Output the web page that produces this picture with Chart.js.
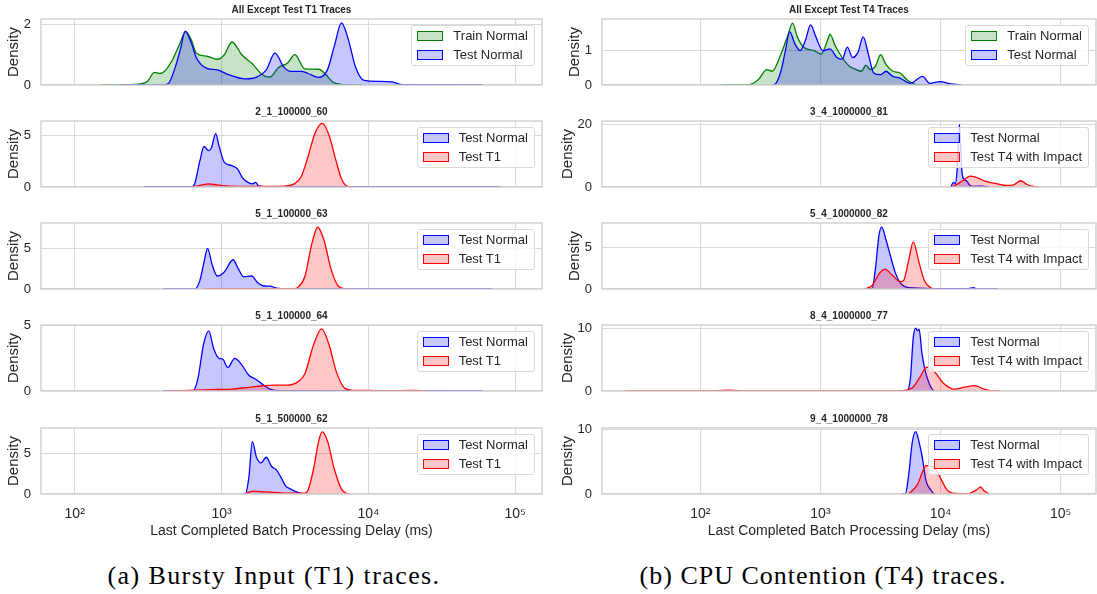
<!DOCTYPE html>
<html>
<head>
<meta charset="utf-8">
<script src="https://cdn.jsdelivr.net/npm/chart.js@4.4.1/dist/chart.umd.min.js"></script>
<style>
  body { margin: 0; background: #fff; width: 1097px; height: 594px; position: relative; overflow: hidden;
         font-family: "Liberation Sans", Arial, sans-serif; color: #262626; }
  canvas { position: absolute; }
  .legend { position: absolute; border: 1px solid #d9d9d9; border-radius: 3px; background: rgba(255,255,255,0.8);
            padding: 1px 6px 1px 5px; font-size: 13px; line-height: 18.5px; white-space: nowrap; }
  .legend .swatch { display: inline-block; box-sizing: border-box; width: 26px; height: 10px; border: 1.5px solid;
                    vertical-align: -1px; margin-right: 10px; }
  .caption { position: absolute; top: 561px; line-height: 30px; font-family: "Liberation Serif", serif; font-size: 26px;
             letter-spacing: 1.4px; transform: translateX(-50%); white-space: nowrap; color: #000; }
</style>
</head>
<body>
<div class="caption" style="left:274px">(a) Bursty Input (T1) traces.</div>
<div class="caption" style="left:823px; letter-spacing:1px">(b) CPU Contention (T4) traces.</div>
<script>
// x axis (log, ms)
const xTickValues = [100, 1000, 10000, 100000];
const xTickLabels = ['10²', '10³', '10⁴', '10⁵'];
const xLabel = 'Last Completed Batch Processing Delay (ms)';

// left column: bursty input (T1)
const leftTitles = ['All Except Test T1 Traces', '2_1_100000_60', '5_1_100000_63', '5_1_100000_64', '5_1_500000_62'];
const leftYMax = [2.18, 6.44, 8.12, 5.05, 8.08];
const leftYTicks = [[0, 2], [0, 5], [0, 5], [0, 5], [0, 5]];

// right column: CPU contention (T4)
const rightTitles = ['All Except Test T4 Traces', '3_4_1000000_81', '5_4_1000000_82', '8_4_1000000_77', '9_4_1000000_78'];
const rightYMax = [1.92, 21.1, 8.0, 10.5, 10.26];
const rightYTicks = [[0, 1], [0, 20], [0, 5], [0, 10], [0, 10]];

// density curves, [delay ms, density]
const trainNormalT1 = [[150,0],[258,0.02],[313,0.12],[349,0.42],[379,0.38],[411,0.46],[459,0.8],[513,1.3],[572,1.76],[621,1.5],[674,1.05],[795,0.95],[936,0.85],[1045,1.0],[1178,1.42],[1374,1.0],[1621,0.7],[1910,0.33],[2132,0.26],[2445,0.58],[2805,0.72],[3162,1.0],[3690,0.53],[4592,0.52],[5129,0.35],[5715,0.1],[6561,0.02],[7516,0],[9000,0]];
const testNormalT1 = [[200,0],[400,0],[435,0.05],[485,0.6],[526,1.2],[565,1.78],[621,1.4],[674,0.9],[795,0.55],[936,0.5],[1104,0.35],[1452,0.2],[1711,0.25],[2018,0.5],[2312,1.05],[2653,0.6],[2958,0.45],[3490,0.45],[3890,0.38],[4592,0.25],[5263,0.5],[5875,1.3],[6561,2.05],[7311,1.5],[8167,0.6],[9354,0.15],[11660,0.12],[14520,0.1],[17110,0.01],[60000,0]];
const normal60 = [[300,0],[621,0],[656,0.3],[711,2.5],[760,3.95],[817,3.55],[853,3.8],[912,5.2],[962,4.0],[1045,2.4],[1166,2.1],[1288,1.75],[1374,1.0],[1493,0.5],[1621,0.3],[1711,0.45],[1788,0.1],[2018,0.02],[80000,0]];
const t1Run60 = [[638,0],[711,0.15],[817,0.3],[936,0.2],[1166,0.08],[1910,0.05],[2512,0.05],[3126,0.3],[3490,1.0],[3890,3.0],[4345,5.3],[4850,6.2],[5412,5.0],[6040,2.5],[6561,0.8],[7119,0.1],[7943,0]];
const normal63 = [[400,0],[656,0],[711,1.0],[764,3.5],[803,5.0],[863,3.0],[936,1.6],[1045,2.1],[1199,3.6],[1300,2.5],[1413,1.5],[1603,1.6],[1758,0.8],[1910,0.4],[2132,0.35],[2377,0.1],[2653,0],[70000,0]];
const t1Run63 = [[752,0],[900,0.05],[2500,0.05],[3126,0.05],[3304,0.2],[3690,1.5],[4112,5.5],[4519,7.6],[4988,6.0],[5559,2.5],[6209,0.4],[6925,0]];
const normal64 = [[400,0],[638,0],[692,1.0],[752,3.5],[817,4.6],[887,3.2],[962,2.5],[1016,2.45],[1104,1.8],[1231,2.5],[1374,2.0],[1535,1.2],[1711,0.9],[1910,0.5],[2132,0.15],[2512,0.02],[60000,0]];
const t1Run64 = [[435,0],[839,0.1],[1166,0.15],[1452,0.25],[1910,0.4],[2251,0.45],[2805,0.45],[3304,0.7],[3690,1.3],[4227,3.5],[4797,4.75],[5412,3.5],[6040,1.5],[6925,0.2],[7943,0.05],[9886,0.04],[13000,0.02],[20180,0.05],[25120,0]];
const normal62 = [[1400,0],[1452,0],[1535,2.0],[1621,6.4],[1730,4.5],[1858,3.8],[2018,4.5],[2188,3.4],[2377,2.9],[2582,1.8],[2729,1.0],[2958,0.6],[3304,0.2],[3589,0]];
const t1Run62 = [[1452,0],[1621,0.35],[2018,0.25],[2805,0.1],[3690,0.1],[3890,0.5],[4227,3.0],[4592,6.5],[4850,7.6],[5263,6.5],[5875,3.0],[6561,0.6],[7119,0.05],[7500,0]];

const trainNormalT4 = [[150,0],[256,0.01],[303,0.15],[358,0.45],[396,0.4],[469,0.9],[536,1.45],[585,1.8],[642,1.4],[724,1.1],[887,1.0],[1014,0.9],[1159,1.35],[1199,1.48],[1325,1.15],[1517,0.8],[1734,0.55],[1983,0.45],[2193,0.4],[2393,0.58],[2594,0.45],[2871,0.55],[3171,0.88],[3508,0.6],[4011,0.4],[4592,0.35],[5248,0.15],[5808,0.05],[6637,0],[8000,0]];
const testNormalT4 = [[400,0],[409,0],[469,0.4],[511,1.0],[554,1.55],[613,1.2],[677,1.0],[750,1.3],[828,1.75],[916,1.4],[1047,1.0],[1199,1.05],[1371,0.8],[1517,0.75],[1675,1.1],[1854,0.8],[2051,0.95],[2270,1.4],[2506,0.9],[2773,0.35],[3171,0.3],[3508,0.4],[4011,0.25],[4592,0.2],[5610,0.05],[7096,0.25],[8128,0.05],[9931,0.1],[12160,0.03],[14860,0]];
const normal81 = [[12160,0],[12820,1.5],[13250,1.0],[13710,5],[14090,14],[14360,20],[14660,14],[15060,5],[15670,2.5],[16440,2.0],[17580,0.5],[18790,0.2],[22230,0.3],[25410,0]];
const t4Run81 = [[12160,0],[13900,1.0],[15890,2.5],[17580,3.5],[20090,3.0],[23770,1.8],[29110,1.1],[35560,0.5],[40640,0.7],[46560,2.0],[52480,0.8],[60810,0.1],[65010,0]];
const normal82 = [[2500,0],[2685,0],[2871,2.5],[3069,6.5],[3236,7.5],[3508,6.0],[3828,4.0],[4150,2.2],[4592,0.8],[5433,0.15],[8690,0.05],[17000,0.05],[18790,0.15],[20090,0],[30000,0]];
const t4Run82 = [[2344,0],[2685,0.4],[3069,1.8],[3436,2.4],[4011,1.6],[4592,0.9],[4909,1.0],[5433,3.5],[5929,5.7],[6546,3.5],[7345,1.0],[8395,0.1],[8690,0]];
const normal77 = [[5000,0],[5248,0],[5610,2.0],[5929,8.5],[6209,10.0],[6427,9.6],[6637,9.8],[7000,6.0],[7499,3.0],[8128,1.0],[8690,0.1],[9000,0]];
const t4Run77 = [[23.6,0.02],[135,0.02],[171,0.15],[216,0.02],[4436,0.02],[5808,0.5],[6637,2.0],[7691,3.8],[8690,3.3],[10620,1.2],[13000,0.3],[15890,0.6],[19190,0.85],[23010,0.3],[27170,0.02],[31120,0]];
const normal78 = [[4800,0],[5082,0],[5433,3.0],[5808,8.0],[6209,9.7],[6637,8.0],[7000,6.0],[7586,2.0],[8395,0.5],[8690,0.1],[9000,0]];
const t4Run78 = [[5433,0],[6427,1.5],[7096,3.5],[7586,4.4],[8395,4.3],[9290,3.6],[10280,2.0],[11350,0.6],[12560,0.15],[16980,0.05],[20090,0.7],[21480,1.1],[23010,0.5],[25410,0]];

const leftSeries = [
  [['Train Normal', trainNormalT1], ['Test Normal', testNormalT1]],
  [['Test Normal', normal60], ['Test T1', t1Run60]],
  [['Test Normal', normal63], ['Test T1', t1Run63]],
  [['Test Normal', normal64], ['Test T1', t1Run64]],
  [['Test Normal', normal62], ['Test T1', t1Run62]]
];
const rightSeries = [
  [['Train Normal', trainNormalT4], ['Test Normal', testNormalT4]],
  [['Test Normal', normal81], ['Test T4 with Impact', t4Run81]],
  [['Test Normal', normal82], ['Test T4 with Impact', t4Run82]],
  [['Test Normal', normal77], ['Test T4 with Impact', t4Run77]],
  [['Test Normal', normal78], ['Test T4 with Impact', t4Run78]]
];

const seriesColors = {
  'Train Normal': [0, 128, 0],
  'Test Normal': [0, 0, 255],
  'Test T1': [255, 0, 0],
  'Test T4 with Impact': [255, 0, 0]
};

// layout
const FONT = '"Liberation Sans", Arial, sans-serif';
const TEXT = '#262626';
const GRID = '#dadada';
const cols = [
  { left: 0, width: 548, spine: 41, right: 542, xMin: 58.95, xMax: 152300 },
  { left: 548, width: 549, spine: 602, right: 1096, xMin: 15.19, xMax: 196800 }
];
const plotTops = [19, 121, 223, 325, 428];
const plotHeight = 66;
const titleBlock = 17;
const xAxisHeight = 46;

const rgba = (c, a) => `rgba(${c[0]},${c[1]},${c[2]},${a})`;

const framePlugin = {
  id: 'frame',
  afterDatasetsDraw(chart) {
    const { ctx, chartArea: a } = chart;
    ctx.save();
    ctx.strokeStyle = '#cfcfcf';
    ctx.lineWidth = 1.4;
    ctx.strokeRect(a.left, a.top, a.right - a.left, a.bottom - a.top);
    ctx.restore();
  }
};

function makePanel(colIdx, row, title, yMax, yTicks, series) {
  const col = cols[colIdx];
  const isBottom = row === 4;
  const axisW = col.spine - col.left;
  const digits = String(yTicks[yTicks.length - 1]).length;
  const titlePad = axisW - (27.5 + 6.5 * (digits - 1)) - 9;

  const canvas = document.createElement('canvas');
  canvas.width = col.width;
  canvas.height = titleBlock + plotHeight + (isBottom ? xAxisHeight : 8);
  canvas.style.left = col.left + 'px';
  canvas.style.top = (plotTops[row] - titleBlock) + 'px';
  document.body.appendChild(canvas);

  const chart = new Chart(canvas, {
    type: 'line',
    data: {
      datasets: series.map(([label, pts], i) => ({
        label: label,
        data: pts.map(([x, y]) => ({ x: x, y: y })),
        borderColor: rgba(seriesColors[label], 1),
        backgroundColor: rgba(seriesColors[label], 0.22),
        borderWidth: 1.3,
        pointRadius: 0,
        fill: 'origin',
        cubicInterpolationMode: 'monotone',
        order: series.length - 1 - i
      }))
    },
    options: {
      responsive: false,
      animation: false,
      devicePixelRatio: 1,
      layout: { padding: { left: 0, top: 0, right: col.left + col.width - col.right, bottom: isBottom ? 0 : 8 } },
      plugins: {
        legend: { display: false },
        tooltip: { enabled: false },
        title: {
          display: true, text: title, fullSize: false, color: TEXT,
          font: { family: FONT, size: 10, weight: 'bold', lineHeight: 1.2 },
          padding: { top: 2, bottom: 3 }
        }
      },
      scales: {
        x: {
          type: 'logarithmic', min: col.xMin, max: col.xMax, bounds: 'data',
          afterBuildTicks: s => { s.ticks = xTickValues.map(v => ({ value: v })); },
          afterFit: s => {
            s.paddingLeft = 0; s.paddingRight = 0;
            s.height = isBottom ? xAxisHeight : 0;
          },
          grid: { color: GRID, lineWidth: 1.1, drawTicks: false },
          border: { display: false },
          ticks: {
            display: isBottom, padding: 12, color: TEXT, maxRotation: 0, autoSkip: false,
            font: { family: FONT, size: 14 },
            callback: (v, i) => xTickLabels[i]
          },
          title: {
            display: isBottom, text: xLabel, color: TEXT,
            font: { family: FONT, size: 14 }, padding: { top: 2, bottom: 0 }
          }
        },
        y: {
          min: 0, max: yMax, bounds: 'data',
          afterBuildTicks: s => { s.ticks = yTicks.map(v => ({ value: v })); },
          afterFit: s => { s.width = axisW; s.paddingTop = 0; s.paddingBottom = 0; },
          grid: { color: GRID, lineWidth: 1.1, drawTicks: false },
          border: { display: false },
          ticks: { padding: 10, color: TEXT, font: { family: FONT, size: 13 }, callback: v => String(v) },
          title: {
            display: true, text: 'Density', color: TEXT,
            font: { family: FONT, size: 15, lineHeight: 1.2 }, padding: { top: titlePad, bottom: 0 }
          }
        }
      }
    },
    plugins: [framePlugin]
  });

  // html legend built from the chart's datasets
  const lg = document.createElement('div');
  lg.className = 'legend';
  lg.style.right = (1097 - (col.right - 7)) + 'px';
  lg.style.top = (plotTops[row] + 6) + 'px';
  lg.innerHTML = chart.data.datasets.map(d =>
    `<div><span class="swatch" style="border-color:${d.borderColor};background:${d.backgroundColor}"></span>${d.label}</div>`
  ).join('');
  document.body.appendChild(lg);
}

for (let r = 0; r < 5; r++) {
  makePanel(0, r, leftTitles[r], leftYMax[r], leftYTicks[r], leftSeries[r]);
  makePanel(1, r, rightTitles[r], rightYMax[r], rightYTicks[r], rightSeries[r]);
}
</script>
</body>
</html>
